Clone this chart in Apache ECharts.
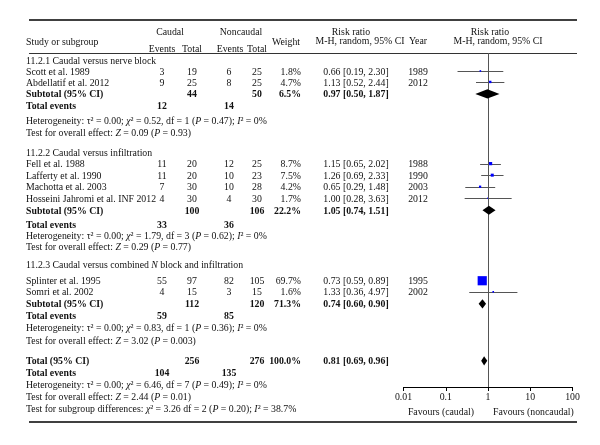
<!DOCTYPE html>
<html><head><meta charset="utf-8">
<script src="https://cdn.jsdelivr.net/npm/echarts@6/dist/echarts.min.js"></script>
<style>html,body{margin:0;padding:0;background:#fff}#c{width:600px;height:445px}</style>
</head><body><div id="c"></div>
<script>
// ---------------- DATA ----------------
const studies = ["Scott et al. 1989","Abdellatif et al. 2012","Fell et al. 1988","Lafferty et al. 1990","Machotta et al. 2003","Hosseini Jahromi et al. INF 2012","Splinter et al. 1995","Somri et al. 2002"];
const studyGroup = [0,0,1,1,1,1,2,2];
const caudalEvents = [3,9,11,11,7,4,55,4];
const caudalTotal = [19,25,20,20,30,30,97,15];
const noncaudalEvents = [6,8,12,10,10,4,82,3];
const noncaudalTotal = [25,25,25,23,28,30,105,15];
const weights = [1.8,4.7,8.7,7.5,4.2,1.7,69.7,1.6];
const riskRatio = [0.66,1.13,1.15,1.26,0.65,1.00,0.73,1.33];
const ciLow = [0.19,0.52,0.65,0.69,0.29,0.28,0.59,0.36];
const ciHigh = [2.30,2.44,2.02,2.33,1.48,3.63,0.89,4.97];
const years = [1989,2012,1988,1990,2003,2012,1995,2002];

const subgroupNames = ["11.2.1 Caudal versus nerve block","11.2.2 Caudal versus infiltration","11.2.3 Caudal versus combined {i|N} block and infiltration"];
const subCaudalTotal = [44,100,112];
const subNoncaudalTotal = [50,106,120];
const subCaudalEvents = [12,33,59];
const subNoncaudalEvents = [14,36,85];
const subWeight = [6.5,22.2,71.3];
const subRR = [0.97,1.05,0.74];
const subLow = [0.50,0.74,0.60];
const subHigh = [1.87,1.51,0.90];
const subTau2 = ["0.00","0.00","0.00"];
const subChi2 = ["0.52","1.79","0.83"];
const subDf = [1,3,1];
const subHetP = ["0.47","0.62","0.36"];
const subI2 = ["0","0","0"];
const subZ = ["0.09","0.29","3.02"];
const subZP = ["0.93","0.77","0.003"];

const totalCaudal = 256, totalNoncaudal = 276, totalWeight = 100.0;
const totalRR = 0.81, totalLow = 0.69, totalHigh = 0.96;
const totalCaudalEvents = 104, totalNoncaudalEvents = 135;
const totalTau2 = "0.00", totalChi2 = "6.46", totalDf = 7, totalHetP = "0.49", totalI2 = "0";
const totalZ = "2.44", totalZP = "0.01";
const subDiffChi2 = "3.26", subDiffDf = 2, subDiffP = "0.20", subDiffI2 = "38.7";

const tickLabels = ["0.01","0.1","1","10","100"];
const favoursLeft = "Favours (caudal)";
const favoursRight = "Favours (noncaudal)";

// ---------------- LAYOUT ----------------
const FONT = "'Liberation Serif','Times New Roman',serif";
const FS = 9.8;
const TEXT_DY = 1;
const COL = {study:26, cEv:162, cTot:192, nEv:229, nTot:257, wRight:301, rr:356, year:418};
const firstStudyStep = [0.95, 1, 1.38];
const studyStep = [0.95, 1, 0.96];
const eventsStep = [0.96, 1.26, 1.03];
const hetStep = [1.29, 0.95, 1.04];
const testStep = [1.04, 0.95, 1.13];
const nextGroupStep = [1.74, 1.56];
const totalStep = 1.73;

const items = [];   // table texts & rules
const forest = [];  // [rr, u, lo, hi, w]
const diamonds = []; // [rr, u, lo, hi]
function T(u, x, text, align, bold){ items.push({kind:'text', u, x, text:String(text), align:align||'left', bold:!!bold}); }
function rule(u, color, width){ items.push({kind:'rule', u, x1:29, x2:577, color, width}); }
const fmtRR = (r,l,h) => r.toFixed(2)+" ["+l.toFixed(2)+", "+h.toFixed(2)+"]";
const het = (t,c,d,p,i) => "Heterogeneity: τ² = "+t+"; {i|χ}² = "+c+", df = "+d+" ({i|P} = "+p+"); {i|I}² = "+i+"%";
const zTest = (z,p) => "Test for overall effect: {i|Z} = "+z+" ({i|P} = "+p+")";

// header
rule(-3.42, '#000', 1.4);
T(-2.51, 170, "Caudal", 'center');
T(-2.51, 241, "Noncaudal", 'center');
T(-1.65, COL.study, "Study or subgroup");
T(-1.04, COL.cEv, "Events", 'center');
T(-1.04, COL.cTot, "Total", 'center');
T(-1.04, 230, "Events", 'center');
T(-1.04, COL.nTot, "Total", 'center');
T(-1.65, 286, "Weight", 'center');
T(-2.51, 351, "Risk ratio", 'center');
T(-1.73, 360, "M-H, random, 95% CI", 'center');
T(-1.73, COL.year, "Year", 'center');
T(-2.51, 490, "Risk ratio", 'center');
T(-1.73, 498, "M-H, random, 95% CI", 'center');
rule(-0.606, '#333', 1);

let u = 0;
for (let g = 0; g < 3; g++) {
  if (g > 0) u += nextGroupStep[g-1];
  T(u, COL.study, subgroupNames[g]);
  let first = true;
  studies.forEach((s, i) => {
    if (studyGroup[i] !== g) return;
    u += first ? firstStudyStep[g] : studyStep[g];
    first = false;
    T(u, COL.study, s);
    T(u, COL.cEv, caudalEvents[i], 'center');
    T(u, COL.cTot, caudalTotal[i], 'center');
    T(u, COL.nEv, noncaudalEvents[i], 'center');
    T(u, COL.nTot, noncaudalTotal[i], 'center');
    T(u, COL.wRight, weights[i].toFixed(1)+"%", 'right');
    T(u, COL.rr, fmtRR(riskRatio[i], ciLow[i], ciHigh[i]), 'center');
    T(u, COL.year, years[i], 'center');
    forest.push([riskRatio[i], u, ciLow[i], ciHigh[i], weights[i]]);
  });
  u += 1.04;
  T(u, COL.study, "Subtotal (95% CI)", 'left', true);
  T(u, COL.cTot, subCaudalTotal[g], 'center', true);
  T(u, COL.nTot, subNoncaudalTotal[g], 'center', true);
  T(u, COL.wRight, subWeight[g].toFixed(1)+"%", 'right', true);
  T(u, COL.rr, fmtRR(subRR[g], subLow[g], subHigh[g]), 'center', true);
  diamonds.push([subRR[g], u, subLow[g], subHigh[g]]);
  u += eventsStep[g];
  T(u, COL.study, "Total events", 'left', true);
  T(u, COL.cEv, subCaudalEvents[g], 'center', true);
  T(u, COL.nEv, subNoncaudalEvents[g], 'center', true);
  u += hetStep[g];
  T(u, COL.study, het(subTau2[g], subChi2[g], subDf[g], subHetP[g], subI2[g]));
  u += testStep[g];
  T(u, COL.study, zTest(subZ[g], subZP[g]));
}
u += totalStep;
T(u, COL.study, "Total (95% CI)", 'left', true);
T(u, COL.cTot, totalCaudal, 'center', true);
T(u, COL.nTot, totalNoncaudal, 'center', true);
T(u, COL.wRight, totalWeight.toFixed(1)+"%", 'right', true);
T(u, COL.rr, fmtRR(totalRR, totalLow, totalHigh), 'center', true);
diamonds.push([totalRR, u, totalLow, totalHigh]);
u += 1.04;
T(u, COL.study, "Total events", 'left', true);
T(u, COL.cEv, totalCaudalEvents, 'center', true);
T(u, COL.nEv, totalNoncaudalEvents, 'center', true);
u += 1.04;
T(u, COL.study, het(totalTau2, totalChi2, totalDf, totalHetP, totalI2));
u += 1.04;
T(u, COL.study, zTest(totalZ, totalZP));
u += 1.04;
T(u, COL.study, "Test for subgroup differences: {i|χ}² = "+subDiffChi2+" df = "+subDiffDf+" ({i|P} = "+subDiffP+"); {i|I}² = "+subDiffI2+"%");
items.push({kind:'text', u:30.45, rel:-14, text:favoursLeft, align:'right'});
items.push({kind:'text', u:30.45, rel:5, text:favoursRight, align:'left'});
rule(31.34, '#000', 1.4);

// ---------------- CHART ----------------
const chart = echarts.init(document.getElementById('c'), null, {renderer:'canvas'});
function rich(bold){ return {i:{fontStyle:'italic', fontFamily:FONT, fontSize:FS, fontWeight:bold?'bold':'normal', fill:'#111'}}; }

function renderTable(params, api){
  const t = items[params.dataIndex];
  let y = api.coord([1, api.value(1)])[1];
  if (t.kind === 'rule') {
    y = Math.round(y) + (t.width <= 1 ? 0.5 : 0);
    return {type:'line', shape:{x1:t.x1, y1:y, x2:t.x2, y2:y}, style:{stroke:t.color, lineWidth:t.width}};
  }
  const x = (t.rel !== undefined) ? api.coord([1, 0])[0] + t.rel : t.x;
  return {type:'text', x:x, y:y + TEXT_DY, style:{text:t.text, fontFamily:FONT, fontSize:FS, fontWeight:t.bold?'bold':'normal', fill:'#111', align:t.align, verticalAlign:'middle', textAlign:t.align, textVerticalAlign:'middle', rich:rich(t.bold)}};
}
function renderForest(params, api){
  const y = api.coord([1, api.value(1)])[1];
  const c = api.coord([api.value(0), api.value(1)]);
  const xl = api.coord([api.value(2), api.value(1)])[0];
  const xr = api.coord([api.value(3), api.value(1)])[0];
  const s = Math.max(1.6, Math.sqrt(api.value(4)) * 1.1);
  const yy = Math.round(y) + 0.5;
  return {type:'group', children:[
    {type:'line', shape:{x1:xl, y1:yy, x2:xr, y2:yy}, style:{stroke:'#555', lineWidth:1}},
    {type:'rect', shape:{x:c[0]-s/2, y:y-s/2, width:s, height:s}, style:{fill:'#0000ff'}}
  ]};
}
function renderDiamond(params, api){
  const y = api.coord([1, api.value(1)])[1];
  const xc = api.coord([api.value(0), api.value(1)])[0];
  const xl = api.coord([api.value(2), api.value(1)])[0];
  const xr = api.coord([api.value(3), api.value(1)])[0];
  const h = 4.6;
  return {type:'polygon', shape:{points:[[xl,y],[xc,y-h],[xr,y],[xc,y+h]]}, style:{fill:'#000'}};
}

chart.setOption({
  animation:false,
  backgroundColor:'#fff',
  grid:{left:403.5, right:27.5, top:53, bottom:58, containLabel:false},
  xAxis:{type:'log', logBase:10, min:0.01, max:100, position:'bottom',
    axisLine:{show:true, onZero:false, lineStyle:{color:'#000', width:1}},
    axisTick:{show:true, length:4, lineStyle:{color:'#000'}},
    minorTick:{show:false},
    axisLabel:{fontFamily:FONT, fontSize:FS, color:'#111', margin:5,
      formatter:v => tickLabels[Math.round(Math.log10(v)) + 2]},
    splitLine:{show:false}},
  yAxis:{type:'value', inverse:true, min:-0.606, max:28.31, show:false},
  series:[
    {type:'custom', name:'table', renderItem:renderTable, clip:false, silent:true,
      data:items.map(t => [1, t.u]), z:3},
    {type:'custom', name:'forest', renderItem:renderForest, clip:false, silent:true, data:forest, z:4,
      markLine:{silent:true, symbol:['none','none'], label:{show:false},
        lineStyle:{color:'#555', width:1, type:'solid'}, data:[{xAxis:1}]}},
    {type:'custom', name:'diamonds', renderItem:renderDiamond, clip:false, silent:true, data:diamonds, z:5}
  ]
});
</script></body></html>
